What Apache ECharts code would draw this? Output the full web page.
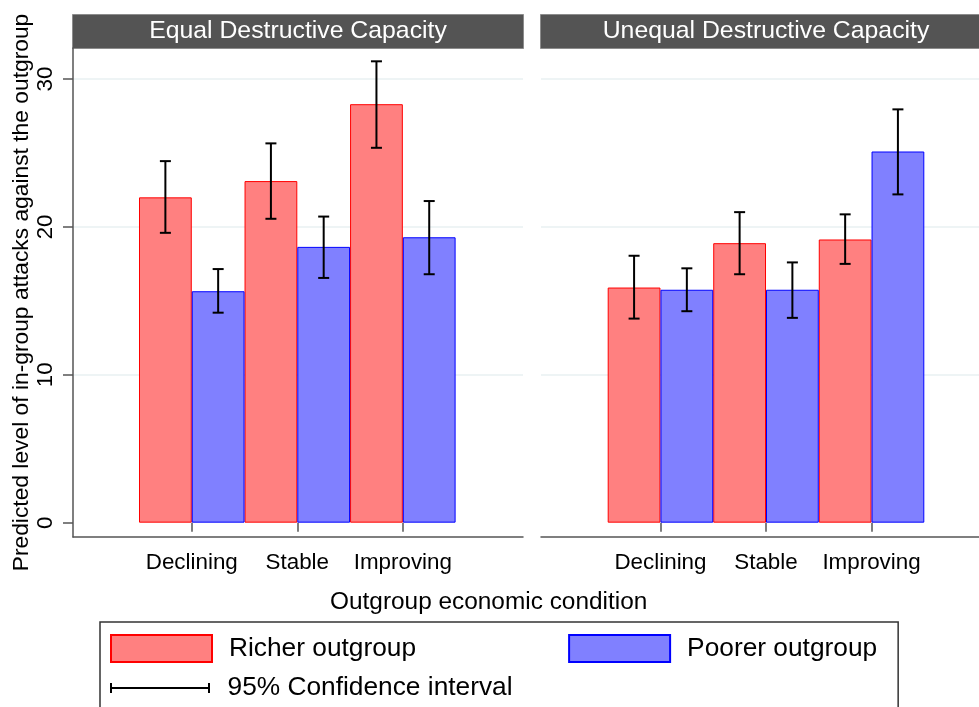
<!DOCTYPE html>
<html><head><meta charset="utf-8">
<script src="https://cdn.jsdelivr.net/npm/echarts@6/dist/echarts.min.js"></script>
<style>html,body{margin:0;padding:0;background:#fff}#c{width:979px;height:707px}</style>
</head><body><div id="c"></div>
<script>
// ---------- data ----------
const categories = ['Declining', 'Stable', 'Improving'];
const panelTitles = ['Equal Destructive Capacity', 'Unequal Destructive Capacity'];
const seriesNames = ['Richer outgroup', 'Poorer outgroup'];
const ciName = '95% Confidence interval';
const xTitle = 'Outgroup economic condition';
const yTitle = 'Predicted level of in-group attacks against the outgroup';
const yTicks = [0, 10, 20, 30];
const yGridValues = [10, 20, 30];

const equalRicher    = [22.0, 23.1, 28.3];
const equalRicherLo  = [19.6, 20.55, 25.35];
const equalRicherHi  = [24.45, 25.65, 31.2];
const equalPoorer    = [15.65, 18.65, 19.3];
const equalPoorerLo  = [14.2, 16.55, 16.8];
const equalPoorerHi  = [17.15, 20.7, 21.75];

const unequalRicher   = [15.9, 18.9, 19.15];
const unequalRicherLo = [13.8, 16.8, 17.5];
const unequalRicherHi = [18.05, 21.0, 20.85];
const unequalPoorer   = [15.75, 15.75, 25.1];
const unequalPoorerLo = [14.3, 13.85, 22.2];
const unequalPoorerHi = [17.2, 17.6, 27.95];

// ---------- style ----------
const FONT = 'Liberation Sans';
const YMIN = -0.97, YMAX = 32.1;
const AXIS_COLOR = '#555';
const GRID_COLOR = '#e9f0f2';
const RED = '#ff8080', RED_EDGE = '#ff0000';
const BLUE = '#8080ff', BLUE_EDGE = '#0000ff';

const TOP = 48, HEIGHT = 489;
const frames = [{left: 73, width: 450}, {left: 541, width: 450}];
const bands = [{left: 139, width: 316.6}, {left: 607.7, width: 316.6}];

function ciRows(lo, hi, side) {
  return categories.map((c, i) => [i, lo[i], hi[i], side]);
}

function renderCI(params, api) {
  const i = api.value(0), lo = api.value(1), hi = api.value(2), side = api.value(3);
  const band = api.size([1, 0])[0];
  const pHi = api.coord([i, hi]);
  const pLo = api.coord([i, lo]);
  const x = pHi[0] + side * band / 4;
  const cap = 5.5;
  const st = {stroke: '#000', lineWidth: 2};
  return {type: 'group', children: [
    {type: 'line', shape: {x1: x, y1: pHi[1], x2: x, y2: pLo[1]}, style: st},
    {type: 'line', shape: {x1: x - cap, y1: pHi[1], x2: x + cap, y2: pHi[1]}, style: st},
    {type: 'line', shape: {x1: x - cap, y1: pLo[1], x2: x + cap, y2: pLo[1]}, style: st}
  ]};
}

const grids = [];
frames.forEach((f, p) => {
  grids.push({left: f.left, width: f.width, top: TOP, height: HEIGHT, containLabel: false});
  grids.push({left: bands[p].left, width: bands[p].width, top: TOP, height: HEIGHT, containLabel: false});
});

const xAxes = [];
[0, 1].forEach(p => {
  xAxes.push({
    gridIndex: p * 2, type: 'value', min: 0, max: 1,
    axisLine: {show: true, onZero: false, lineStyle: {color: AXIS_COLOR, width: 1.5}},
    axisTick: {show: false}, axisLabel: {show: false}, splitLine: {show: false}
  });
  xAxes.push({
    gridIndex: p * 2 + 1, type: 'category', data: categories,
    axisLine: {show: false},
    axisTick: {show: true, alignWithLabel: true, interval: 0, length: 9, lineStyle: {color: AXIS_COLOR, width: 1.5}},
    axisLabel: {interval: 0, fontSize: 22.4, color: '#000', fontFamily: FONT, margin: 15},
    splitLine: {show: false}
  });
});

const yAxes = [
  { // left frame: ticks, labels, name
    gridIndex: 0, type: 'value', min: YMIN, max: YMAX, position: 'left',
    axisLine: {show: true, onZero: false, lineStyle: {color: AXIS_COLOR, width: 1.5}},
    axisTick: {show: true, length: 10, customValues: yTicks, lineStyle: {color: AXIS_COLOR, width: 1.5}},
    axisLabel: {show: true, customValues: yTicks, rotate: 90, fontSize: 22.4, color: '#000', fontFamily: FONT, margin: 16},
    splitLine: {show: false},
    name: yTitle, nameLocation: 'middle', nameGap: 40,
    nameTextStyle: {fontSize: 22.8, color: '#000', fontFamily: FONT}
  },
  { // left frame: gridlines
    gridIndex: 0, type: 'value', min: YMIN, max: YMAX, position: 'right',
    axisLine: {show: false}, axisTick: {show: false, customValues: yGridValues},
    axisLabel: {show: false, customValues: yGridValues},
    splitLine: {show: true, lineStyle: {color: GRID_COLOR, width: 1.5}}
  },
  {gridIndex: 1, type: 'value', min: YMIN, max: YMAX, show: false},
  { // right frame: gridlines only
    gridIndex: 2, type: 'value', min: YMIN, max: YMAX, position: 'left',
    axisLine: {show: false}, axisTick: {show: false, customValues: yGridValues},
    axisLabel: {show: false, customValues: yGridValues},
    splitLine: {show: true, lineStyle: {color: GRID_COLOR, width: 1.5}}
  },
  {gridIndex: 3, type: 'value', min: YMIN, max: YMAX, show: false}
];

function barSeries(name, data, xi, yi, fill, edge) {
  return {
    name, type: 'bar', xAxisIndex: xi, yAxisIndex: yi, data,
    barGap: '0%', barCategoryGap: '0%', z: 3, silent: true,
    itemStyle: {color: fill, borderColor: edge, borderWidth: 1}
  };
}
function ciSeries(rows, xi, yi) {
  return {
    name: ciName, type: 'custom', xAxisIndex: xi, yAxisIndex: yi, data: rows,
    renderItem: renderCI, z: 5, silent: true, itemStyle: {color: '#000'},
    encode: {x: 0, y: [1, 2]}
  };
}

const series = [
  barSeries(seriesNames[0], equalRicher, 1, 2, RED, RED_EDGE),
  barSeries(seriesNames[1], equalPoorer, 1, 2, BLUE, BLUE_EDGE),
  barSeries(seriesNames[0], unequalRicher, 3, 4, RED, RED_EDGE),
  barSeries(seriesNames[1], unequalPoorer, 3, 4, BLUE, BLUE_EDGE),
  ciSeries(ciRows(equalRicherLo, equalRicherHi, -1), 1, 2),
  ciSeries(ciRows(equalPoorerLo, equalPoorerHi, 1), 1, 2),
  ciSeries(ciRows(unequalRicherLo, unequalRicherHi, -1), 3, 4),
  ciSeries(ciRows(unequalPoorerLo, unequalPoorerHi, 1), 3, 4)
];

const headerGraphics = [];
frames.forEach((f, p) => {
  headerGraphics.push({
    type: 'rect', left: f.left - 1, top: 14, silent: true,
    shape: {width: f.width + 1, height: 34},
    style: {fill: '#545454', stroke: '#8c8c8c', lineWidth: 1}
  });
  headerGraphics.push({
    type: 'text', x: f.left + f.width / 2, y: 31, silent: true,
    style: {text: panelTitles[p], fill: '#fff', fontSize: 24.8, fontFamily: FONT,
            textAlign: 'center', textVerticalAlign: 'middle'}
  });
});

const chart = echarts.init(document.getElementById('c'), null, {renderer: 'canvas'});
chart.setOption({
  animation: false,
  backgroundColor: '#fff',
  textStyle: {fontFamily: FONT},
  title: {
    text: xTitle, left: 325, top: 585,
    textStyle: {fontSize: 24.4, fontWeight: 'normal', color: '#000', fontFamily: FONT}
  },
  legend: [
    {
      data: seriesNames, left: 100, top: 622, orient: 'horizontal',
      itemWidth: 101, itemHeight: 27, itemGap: 152, icon: 'rect',
      padding: [12, 21, 70, 10], borderColor: '#333', borderWidth: 1.5,
      selectedMode: false,
      textStyle: {fontSize: 26.3, color: '#000', fontFamily: FONT, padding: [0, 0, 0, 12]}
    },
    {
      data: [{name: ciName, icon: 'path://M0,0h2v10h-2zM0,4h100v2h-100zM98,0h2v10h-2z'}],
      left: 110, top: 675, itemWidth: 101, itemHeight: 10, padding: 0,
      selectedMode: false,
      itemStyle: {color: '#000', borderWidth: 0},
      textStyle: {fontSize: 26.3, color: '#000', fontFamily: FONT, padding: [0, 0, 0, 12]}
    }
  ],
  grid: grids,
  xAxis: xAxes,
  yAxis: yAxes,
  series,
  graphic: headerGraphics
});
</script>
</body></html>
